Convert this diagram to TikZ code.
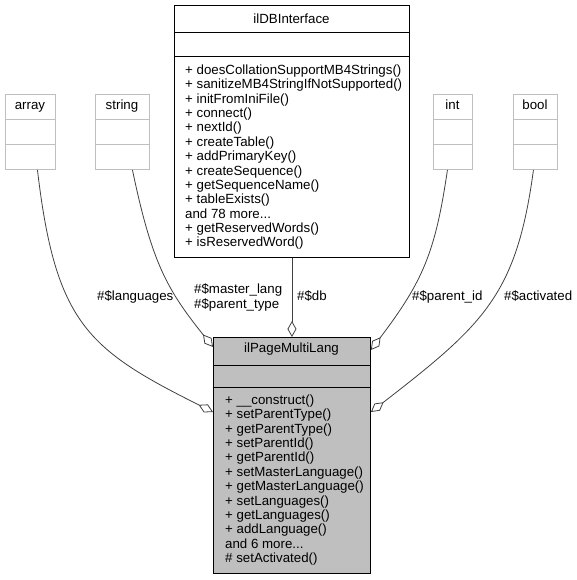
\documentclass[tikz,border=0pt]{standalone}
\usepackage{fontspec}
\setmainfont{Liberation Sans}
\usetikzlibrary{arrows.meta,calc}
\definecolor{edgec}{HTML}{404040}
\definecolor{lightb}{HTML}{BFBFBF}
\definecolor{focusfill}{HTML}{BFBFBF}
\def\mydots{...}
\begin{document}
\begin{tikzpicture}[x=1pt,y=-1pt,
  txt/.style={font=\fontsize{13.3}{14.4}\selectfont, inner sep=0pt, anchor=base west},
  ttl/.style={font=\fontsize{13.3}{14.4}\selectfont, inner sep=0pt, anchor=base},
  cls/.style={draw=black, line width=0.9pt, fill=white, inner sep=0pt, anchor=north west},
  focuscls/.style={draw=black, line width=0.9pt, fill=focusfill, inner sep=0pt, anchor=north west},
  prim/.style={draw=lightb, line width=0.9pt, fill=white, inner sep=0pt, anchor=north west},
  sepline/.style={draw=black, line width=0.9pt},
  primsep/.style={draw=lightb, line width=0.9pt},
  edge/.style={draw=edgec, line width=0.8pt, -{Diamond[fill=white,length=16pt,width=9pt]}}]
\useasboundingbox (0,0) rectangle (577,580);

% ---- ilDBInterface ----
\node[cls, minimum width=235pt, minimum height=252pt] (ildb) at (174,5) {};
\draw[sepline] (ildb.west |- 0,32) -- (ildb.east |- 0,32);
\draw[sepline] (ildb.west |- 0,56) -- (ildb.east |- 0,56);
\node[ttl] (ildbtitle) at (291.5,24) {ilDBInterface};
\foreach \t [count=\i from 0] in {%
  + doesCollationSupportMB4Strings(),
  + sanitizeMB4StringIfNotSupported(),
  + initFromIniFile(),
  + connect(),
  + nextId(),
  + createTable(),
  + addPrimaryKey(),
  + createSequence(),
  + getSequenceName(),
  + tableExists(),
  and 78 more\mydots,
  + getReservedWords(),
  + isReservedWord()}
  \node[txt] (dbm\i) at (185,{74.5+14.36*\i}) {\t};

% ---- ilPageMultiLang ----
\node[focuscls, minimum width=157pt, minimum height=236pt] (pml) at (213,337) {};
\draw[sepline] (pml.west |- 0,365) -- (pml.east |- 0,365);
\draw[sepline] (pml.west |- 0,387) -- (pml.east |- 0,387);
\node[ttl] (pmltitle) at (291.5,352.5) {ilPageMultiLang};
\foreach \t [count=\i from 0] in {%
  + \_\_construct(),
  + setParentType(),
  + getParentType(),
  + setParentId(),
  + getParentId(),
  + setMasterLanguage(),
  + getMasterLanguage(),
  + setLanguages(),
  + getLanguages(),
  + addLanguage(),
  and 6 more\mydots,
  \# setActivated()}
  \node[txt] (pmm\i) at (225,{404.5+14.36*\i}) {\t};

% ---- primitive types ----
\node[prim, minimum width=50pt, minimum height=75pt] (array) at (5,94) {};
\node[prim, minimum width=54pt, minimum height=75pt] (string) at (95,94) {};
\node[prim, minimum width=39pt, minimum height=75pt] (int) at (433,94) {};
\node[prim, minimum width=44pt, minimum height=75pt] (bool) at (513,94) {};
\foreach \b in {array,string,int,bool}{
  \draw[primsep] (\b.west |- 0,119) -- (\b.east |- 0,119);
  \draw[primsep] (\b.west |- 0,144) -- (\b.east |- 0,144);
}
\node[ttl] (arraytitle) at (30,110) {array};
\node[ttl] (stringtitle) at (122,110) {string};
\node[ttl] (inttitle) at (452.5,110) {int};
\node[ttl] (booltitle) at (535,110) {bool};

% ---- connectors ----
\draw[edge] ($(array.south)+(7,0)$) .. controls (55.5,323.6) and (87.8,349.4) .. ($(pml.north west)+(0,75)$);
\draw[edge] ($(string.south)+(10,0)$) .. controls (151.9,263.3) and (167.4,290) .. ($(pml.north west)+(0,10)$);
\draw[edge] (ildb.south) -- (pml.north);
\draw[edge] ($(int.south)+(-5.5,0)$) .. controls (435.3,252.5) and (423,281.1) .. ($(pml.north east)+(0,13)$);
\draw[edge] ($(bool.south)+(-2,0)$) .. controls (516.6,295.2) and (483.7,324.5) .. ($(pml.north east)+(0,75)$);

% ---- labels ----
\node[txt] (lblang) at (97,300.5) {\#\$languages};
\node[txt] (lbmaster) at (194,293.5) {\#\$master\_lang};
\node[txt] (lbptype) at (194,308) {\#\$parent\_type};
\node[txt] (lbdb) at (297,300.5) {\#\$db};
\node[txt] (lbpid) at (412,300.5) {\#\$parent\_id};
\node[txt] (lbact) at (504,300.5) {\#\$activated};
\end{tikzpicture}
\end{document}
